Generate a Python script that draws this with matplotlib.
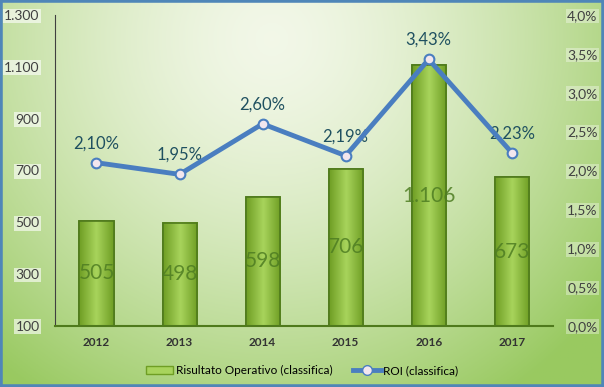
import numpy as np
import matplotlib.pyplot as plt
from matplotlib.patches import Rectangle
from matplotlib.lines import Line2D
from matplotlib.patches import Patch
from matplotlib.colors import LinearSegmentedColormap

plt.rcParams['font.family'] = ['Lato', 'DejaVu Sans']

# -----------------------------------
# Data
# -----------------------------------

years = ["2012", "2013", "2014", "2015", "2016", "2017"]
risultato = [505, 498, 598, 706, 1106, 673]
roi = [2.10, 1.95, 2.60, 2.19, 3.43, 2.23]

left_ticks = [100, 300, 500, 700, 900, 1100, 1300]
right_ticks = [0.0, 0.5, 1.0, 1.5, 2.0, 2.5, 3.0, 3.5, 4.0]


def it_num(v):
    return f"{v:,.0f}".replace(",", ".")


def it_pct(v, d):
    return f"{v:.{d}f}%".replace(".", ",")


fig = plt.figure(figsize=(6.04, 3.87), dpi=100)

# -----------------------------------
# Background gradient
# -----------------------------------

bg = fig.add_axes([0, 0, 1, 1], zorder=-10)
gx, gy = np.meshgrid(np.linspace(0, 1, 300), np.linspace(0, 1, 200))
d = np.sqrt(((gx - 0.45) / 0.7) ** 2 + ((gy - 0.1) / 1.1) ** 2)
d = np.clip(d, 0, 1)
light = np.array([0.95, 0.97, 0.91])
dark = np.array([0.60, 0.79, 0.38])
w = d[..., None] ** 1.5
img = light[None, None, :] * (1 - w) + dark[None, None, :] * w
bg.imshow(img, extent=[0, 1, 0, 1], aspect="auto", origin="upper")
bg.add_patch(Rectangle((0, 0), 1, 1, transform=bg.transAxes, fill=False,
                       edgecolor="#4f86b8", linewidth=4))
bg.axis("off")

# -----------------------------------
# Bars
# -----------------------------------

ax = fig.add_axes([0.091, 0.158, 0.825, 0.803])
ax.patch.set_alpha(0)
x = np.arange(len(years))

bars = ax.bar(x, risultato, width=0.41, color="#8cbf3a",
              edgecolor="#4f7a1c", linewidth=1.2, zorder=2)

bar_cmap = LinearSegmentedColormap.from_list("g", ["#6f9e24", "#a8d45c", "#6f9e24"])
for b in bars:
    bx, bw = b.get_x(), b.get_width()
    top = b.get_height()
    grad = np.linspace(0, 1, 50).reshape(1, -1)
    ax.imshow(grad, extent=[bx, bx + bw, 100, top], aspect="auto",
              cmap=bar_cmap, zorder=2.5)
    ax.add_patch(Rectangle((bx, 100), bw, top - 100, fill=False,
                           edgecolor="#4f7a1c", linewidth=1.2, zorder=2.6))

for xi, v in zip(x, risultato):
    ax.text(xi, (100 + v) / 2, it_num(v), ha="center", va="center",
            fontsize=15, color="#4e7d22", alpha=0.85, zorder=3)

ax.set_xlim(-0.5, len(years) - 0.5)
ax.set_ylim(100, 1300)
ax.set_yticks(left_ticks)
ax.set_yticklabels([it_num(t) for t in left_ticks])
ax.set_xticks(x)
ax.set_xticklabels(years, fontsize=8.5, fontweight="bold", color="#333333")
ax.tick_params(axis="y", length=0, labelsize=10, labelcolor="#404040", pad=11)
ax.tick_params(axis="x", length=0, pad=8)
for lbl in ax.get_yticklabels():
    lbl.set_bbox(dict(facecolor="white", alpha=0.6, edgecolor="none", pad=1))
for s in ["top", "right"]:
    ax.spines[s].set_visible(False)
ax.spines["left"].set_color("#404040")
ax.spines["bottom"].set_color("#4f7a1c")
ax.spines["bottom"].set_linewidth(1.5)

# -----------------------------------
# ROI line
# -----------------------------------

ax2 = ax.twinx()
ax2.plot(x, roi, color="#4a7ec0", linewidth=3.5, marker="o", markersize=7,
         markerfacecolor="#f2e6ee", markeredgecolor="#4a7ec0",
         markeredgewidth=1.5, zorder=5)
for xi, v in zip(x, roi):
    ax2.text(xi, v + 0.25, it_pct(v, 2), ha="center", va="center",
             fontsize=12, color="#1f5060")
ax2.set_ylim(0, 4.0)
ax2.set_yticks(right_ticks)
ax2.set_yticklabels([it_pct(t, 1) for t in right_ticks])
ax2.tick_params(axis="y", length=0, labelsize=10, labelcolor="#404040", pad=10)
for lbl in ax2.get_yticklabels():
    lbl.set_bbox(dict(facecolor="white", alpha=0.35, edgecolor="none", pad=1))
for s in ax2.spines.values():
    s.set_visible(False)

# -----------------------------------
# Legend
# -----------------------------------

handles = [
    Patch(facecolor="#a8d45c", edgecolor="#6f9e24"),
    Line2D([0], [0], color="#4a7ec0", linewidth=3.5, marker="o", markersize=7,
           markerfacecolor="#f2e6ee", markeredgecolor="#4a7ec0"),
]
fig.legend(handles, ["Risultato Operativo (classifica)", "ROI (classifica)"],
           loc="lower center", bbox_to_anchor=(0.5, 0.0), ncol=2,
           frameon=False, fontsize=8.5, handlelength=2.3, handletextpad=0.2,
           columnspacing=1.8)

plt.savefig("out.png", dpi=100)
